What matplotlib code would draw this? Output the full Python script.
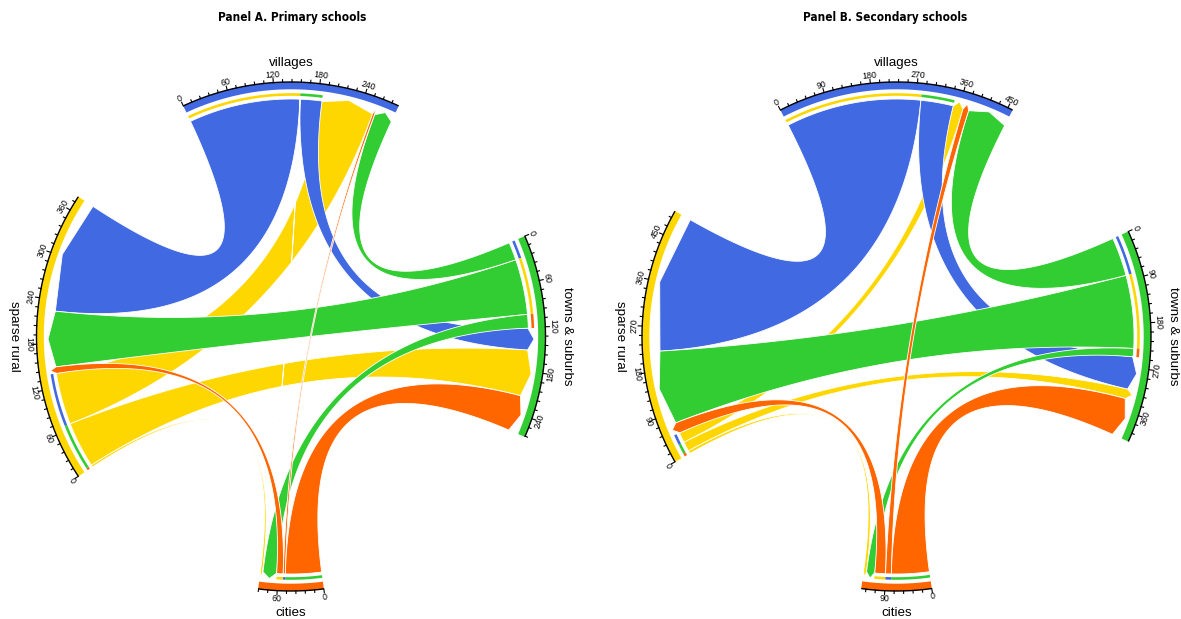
import numpy as np
import matplotlib
matplotlib.use("Agg")
import matplotlib.pyplot as plt
from matplotlib.patches import Polygon
from matplotlib import font_manager

W, H = 1181, 619

groups = ["sparse rural", "villages", "towns & suburbs", "cities"]
group_colors = ["#FFD700", "#4169E1", "#32CD32", "#FF6600"]
group_dirs = [270, 0, 90, 180]  # compass direction of each sector centre

# flows[i][j]: pupils living in area i going to a school in area j
primary_flows = [[0, 72, 64, 3],
                 [155, 0, 30, 0.5],
                 [77, 25, 0, 19],
                 [9, 3, 50, 0]]
secondary_flows = [[0, 21, 20, 6],
                   [280, 0, 67, 0],
                   [151, 80, 0, 17],
                   [22, 12, 78, 0]]
tick_steps = [60, 90]
titles = ["Panel A. Primary schools", "Panel B. Secondary schools"]

# geometry (pixels)
centres = [(291, 336.5), (896.5, 336.5)]
title_x = [292, 885]
name_r = [277, 273.5, 276.5, 276]
R_AXIS = 254.5
R_BAND_IN = 247.2
R_BAR = (240.7, 243.3)
R_LINK = 237.5
R_TIP = 243.0
R_TICKLAB = 262.5
USED_DEG = 178.0


def have_font(name):
    try:
        font_manager.findfont(name, fallback_to_default=False)
        return True
    except Exception:
        return False


def narrow_bold():
    for f in font_manager.fontManager.ttflist:
        if ("Narrow" in f.name or f.stretch in ("condensed", "semi-condensed")) \
                and f.weight in ("bold", 700) and f.style == "normal":
            return font_manager.FontProperties(fname=f.fname, size=8.5)
    fam = "Liberation Sans" if have_font("Liberation Sans") else "DejaVu Sans"
    return font_manager.FontProperties(family=fam, weight="bold", size=8.0)


body_font = "Liberation Sans" if have_font("Liberation Sans") else "DejaVu Sans"
title_prop = narrow_bold()


def pt(c, r, a):
    a = np.radians(a)
    return np.column_stack([c[0] + r * np.sin(a), c[1] - r * np.cos(a)])


def arc(c, r, a0, a1, n=80):
    return pt(c, r, np.linspace(a0, a1, n))


def bez(p0, ctrl, p2, n=80):
    t = np.linspace(0, 1, n)[:, None]
    return (1 - t) ** 2 * p0 + 2 * (1 - t) * t * ctrl + t ** 2 * p2


def band(ax, c, r0, r1, a0, a1, color, z=2):
    pts = np.vstack([arc(c, r1, a0, a1), arc(c, r0, a1, a0)])
    ax.add_patch(Polygon(pts, closed=True, facecolor=color, edgecolor="none", zorder=z))


def facing(a):
    a = a % 360
    rot = -a
    if 90 < a <= 270:
        rot = 180 - a
    return rot


def draw_chord(ax, c, flows, step, title, tx):
    flows = np.array(flows, dtype=float)
    n = len(groups)
    totals = flows.sum(axis=1) + flows.sum(axis=0)
    scale = USED_DEG / totals.sum()
    cw = [1, 2, 3, 0]  # clockwise order: villages, towns, cities, sparse

    src_seg, dst_seg, starts = {}, {}, {}
    for g in range(n):
        span = totals[g] * scale
        pos = group_dirs[g] - span / 2
        starts[g] = pos
        p = cw.index(g)
        others = [cw[(p - k) % n] for k in range(1, n)]
        for j in others:
            if flows[g, j] > 0:
                src_seg[(g, j)] = (pos, pos + flows[g, j] * scale)
                pos += flows[g, j] * scale
        for j in others:
            if flows[j, g] > 0:
                dst_seg[(j, g)] = (pos, pos + flows[j, g] * scale)
                pos += flows[j, g] * scale

    cc = np.array(c)
    # ribbons, drawn in matrix order
    for i in range(n):
        for j in range(n):
            if flows[i, j] <= 0:
                continue
            sa, sb = src_seg[(i, j)]
            ta, tb = dst_seg[(i, j)]
            p_src = arc(c, R_LINK, sa, sb, 30)
            e1 = bez(pt(c, R_LINK, sb)[0], cc, pt(c, R_LINK - 0.5, ta)[0])
            tip = pt(c, R_TIP, (ta + tb) / 2)
            e2 = bez(pt(c, R_LINK - 0.5, tb)[0], cc, pt(c, R_LINK, sa)[0])
            pts = np.vstack([p_src, e1, tip, e2])
            ax.add_patch(Polygon(pts, closed=True, facecolor=group_colors[i],
                                 edgecolor="white", linewidth=0.6, zorder=3))

    # sectors, target bars, axes
    for g in range(n):
        a0 = starts[g]
        a1 = a0 + totals[g] * scale
        band(ax, c, R_BAND_IN, R_AXIS, a0, a1, group_colors[g])
        for (i, j), (sa, sb) in src_seg.items():
            if i == g:
                band(ax, c, R_BAR[0], R_BAR[1], sa, sb, group_colors[j])
        ax.plot(*arc(c, R_AXIS, a0, a1).T, color="black", lw=1.0, zorder=4,
                solid_capstyle="butt")
        minor = step / 5
        for k in range(int(totals[g] // minor) + 1):
            v = k * minor
            a = a0 + v * scale
            major = k % 5 == 0
            seg = pt(c, np.array([R_AXIS, R_AXIS + (4.0 if major else 2.5)]), np.array([a, a]))
            ax.plot(seg[:, 0], seg[:, 1], color="black", lw=0.8, zorder=4)
            if major:
                lp = pt(c, R_TICKLAB, a)[0]
                ax.text(lp[0], lp[1], f"{int(v)}", fontsize=6.3, family=body_font,
                        rotation=facing(a), rotation_mode="anchor",
                        ha="center", va="center", zorder=5)
        lp = pt(c, name_r[g], group_dirs[g])[0]
        ax.text(lp[0], lp[1], groups[g], fontsize=9.6, family=body_font,
                rotation=facing(group_dirs[g]), rotation_mode="anchor",
                ha="center", va="center", zorder=5)

    ax.text(tx, 17, title, fontproperties=title_prop, ha="center", va="center")


fig = plt.figure(figsize=(W / 100, H / 100), dpi=100)
ax = fig.add_axes([0, 0, 1, 1])
ax.set_xlim(0, W)
ax.set_ylim(H, 0)
ax.set_aspect("equal")
ax.axis("off")

draw_chord(ax, centres[0], primary_flows, tick_steps[0], titles[0], title_x[0])
draw_chord(ax, centres[1], secondary_flows, tick_steps[1], titles[1], title_x[1])

fig.savefig("out.png", dpi=100, facecolor="white")
